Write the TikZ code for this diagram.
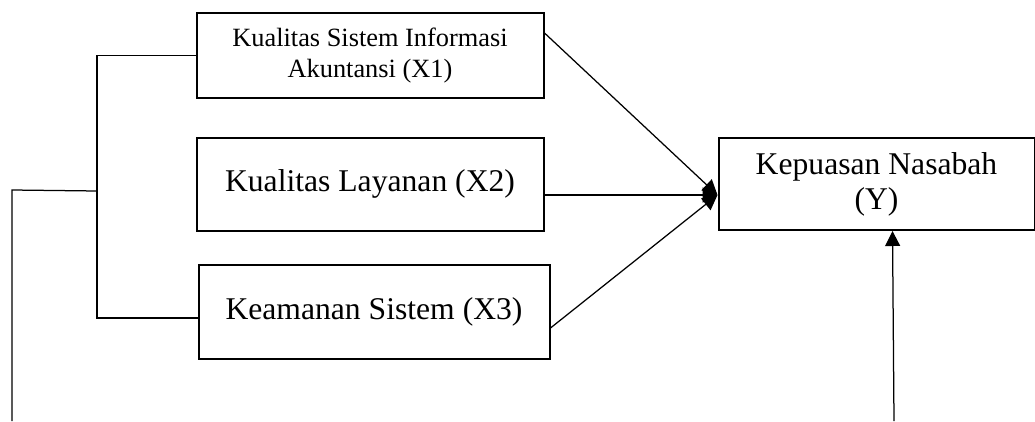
\documentclass[tikz,border=0pt]{standalone}
\usepackage{fontspec}
\setmainfont{Liberation Serif}
\usetikzlibrary{calc,arrows.meta}
\tikzstyle{construct} = [rectangle, draw, line width=0.4mm, text centered, align=center, font=\fontsize{18}{20}\selectfont]
\tikzstyle{connector} = [line width=0.25mm, -{Triangle[length=3mm,width=3mm]}]
\tikzstyle{link} = [line width=0.25mm]

\begin{document}
\begin{tikzpicture}
        \useasboundingbox (0,0) rectangle (20.7,8.42);
        \node (x1) [construct, minimum width=6.94cm, minimum height=1.70cm, font=\fontsize{15}{18}\selectfont] at (7.40,7.31) {Kualitas Sistem Informasi\\Akuntansi (X1)};
        \node (x2) [construct, minimum width=6.94cm, minimum height=1.86cm, below of = x1, yshift=-1.57cm] {Kualitas Layanan (X2)};
        \node (x3) [construct, minimum width=7.02cm, minimum height=1.88cm, below of = x2, yshift=-1.56cm, xshift=0.08cm] {Keamanan Sistem (X3)};
        \node (y) [construct, minimum width=6.32cm, minimum height=1.84cm, right of = x2, xshift=9.13cm] {Kepuasan Nasabah\\(Y)};
        \coordinate (hub) at ($(y.west)+(0,-0.22)$);
        \coordinate (spine) at (1.94,4.60);
        \coordinate (bend) at (0.24,4.62);
        \coordinate (foot) at (0.24,0);
        \coordinate (base) at (17.88,0);
        \draw [connector] ($(x1.east)+(0,0.45)$) -- (hub);
        \draw [connector] (x2.east |- hub) -- (hub);
        \draw [connector] ($(x3.east)+(0,-0.32)$) -- (hub);
        \draw [link] (x1.west) -| (spine) |- ($(x3.west)+(0,-0.12)$);
        \draw [link] (spine) -- (bend) -- (foot);
        \draw [connector] (base) -- ($(y.south)+(0.32,0)$);
    \end{tikzpicture}
\end{document}
